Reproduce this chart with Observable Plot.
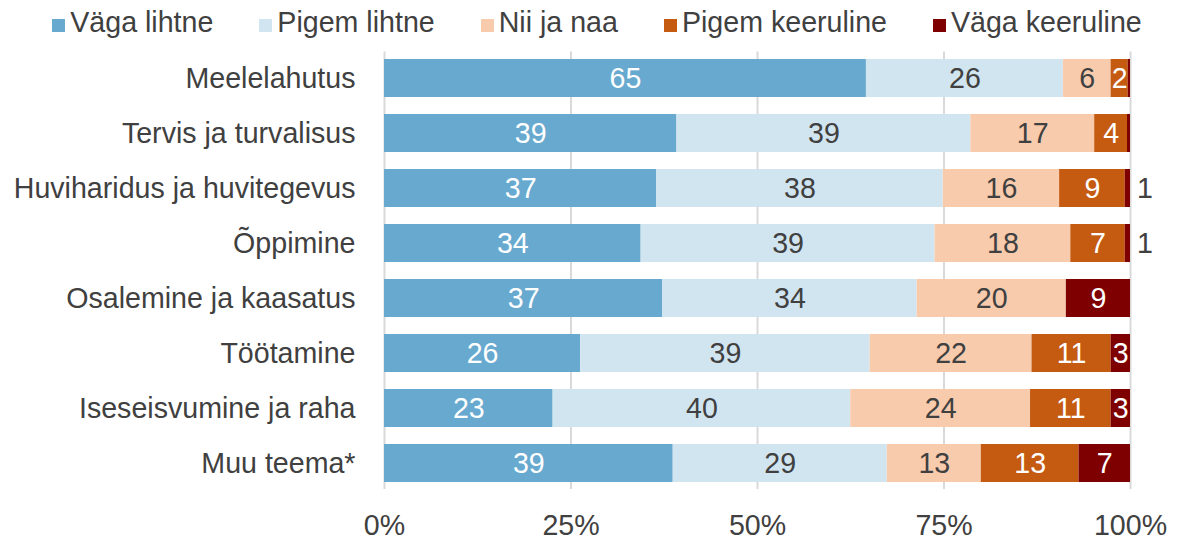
<!DOCTYPE html>
<html>
<head>
<meta charset="utf-8">
<script src="https://cdn.jsdelivr.net/npm/d3@7"></script>
<script src="https://cdn.jsdelivr.net/npm/@observablehq/plot@0.6"></script>
<style>
  html, body { margin: 0; padding: 0; background: #fff; }
  body { width: 1184px; height: 541px; overflow: hidden; font-family: "Liberation Sans", Arial, sans-serif; color: #404040; }
  #legend { height: 32px; padding: 6px 0 6px 0; line-height: 32px; font-size: 28.6px; text-align: center; white-space: nowrap; padding-left: 10px; }
  #legend .item { display: inline-block; margin: 0 23px; }
  #legend .sw { display: inline-block; width: 13px; height: 13px; margin-right: 5px; vertical-align: baseline; }
  #chart svg { display: block; }
</style>
</head>
<body>
<div id="legend"></div>
<div id="chart"></div>
<script>
const categories = ["Meelelahutus", "Tervis ja turvalisus", "Huviharidus ja huvitegevus", "Õppimine", "Osalemine ja kaasatus", "Töötamine", "Iseseisvumine ja raha", "Muu teema*"];
const levels = ["Väga lihtne", "Pigem lihtne", "Nii ja naa", "Pigem keeruline", "Väga keeruline"];
const colors = ["#67a9cf", "#d1e5f0", "#f8cbad", "#c55a11", "#7f0000"];
const labelColors = ["white", "#404040", "#404040", "white", "white"];

const vagaLihtne     = [64.6, 39.2, 36.5, 34.4, 37.3, 26.3, 22.6, 38.7];
const pigemLihtne    = [26.4, 39.4, 38.4, 39.4, 34.1, 38.8, 39.9, 28.7];
const niiJaNaa       = [6.4, 16.6, 15.6, 18.2, 20.0, 21.7, 24.1, 12.6];
const pigemKeeruline = [2.3, 4.4, 8.8, 7.3, 0, 10.6, 10.8, 13.1];
const vagaKeeruline  = [0.3, 0.4, 0.7, 0.7, 8.6, 2.6, 2.6, 6.9];

const xTicks = [0, 25, 50, 75, 100];

const series = [vagaLihtne, pigemLihtne, niiJaNaa, pigemKeeruline, vagaKeeruline];
const data = categories.flatMap((c, i) => levels.map((l, j) => ({cat: c, level: l, li: j, value: series[j][i]})));

// Legend
const legend = document.getElementById("legend");
levels.forEach((l, j) => {
  const it = document.createElement("span");
  it.className = "item";
  const sw = document.createElement("span");
  sw.className = "sw";
  sw.style.background = colors[j];
  it.appendChild(sw);
  it.appendChild(document.createTextNode(l));
  legend.appendChild(it);
});

const FS = 28.6;
const stackOpts = {x: "value", y: "cat", z: "level", order: levels};
const inside = (d, color) => d.value >= 1.5 && labelColors[d.li] === color ? String(Math.round(d.value)) : "";

const chart = Plot.plot({
  width: 1184,
  height: 497,
  marginLeft: 384,
  marginRight: 54,
  marginTop: 7.5,
  marginBottom: 52,
  style: {fontFamily: "'Liberation Sans', Arial, sans-serif", fontSize: FS + "px", color: "#404040", background: "white"},
  x: {domain: [0, 100]},
  y: {domain: categories, paddingInner: 0.3045, paddingOuter: 0.1244},
  color: {domain: levels, range: colors},
  marks: [
    Plot.gridX(xTicks, {stroke: "#d9d9d9", strokeOpacity: 1, strokeWidth: 2}),
    Plot.barX(data, Plot.stackX({...stackOpts, fill: "level"})),
    Plot.text(data, Plot.stackX({...stackOpts, text: d => inside(d, "white"), fill: "white", fontSize: FS})),
    Plot.text(data, Plot.stackX({...stackOpts, text: d => inside(d, "#404040"), fill: "#404040", fontSize: FS})),
    Plot.text(data, Plot.stackX({...stackOpts, text: d => d.li === 4 && d.value >= 0.5 && d.value < 1.5 ? String(Math.round(d.value)) : "", fill: "#404040", fontSize: FS, dx: 17})),
    Plot.axisX({ticks: xTicks, tickFormat: d => d + "%", tickSize: 0, tickPadding: 25, fontSize: FS, label: null, fill: "#404040"}),
    Plot.axisY({tickSize: 0, tickPadding: 29, fontSize: FS, label: null, fill: "#404040"})
  ]
});
document.getElementById("chart").appendChild(chart);
</script>
</body>
</html>
